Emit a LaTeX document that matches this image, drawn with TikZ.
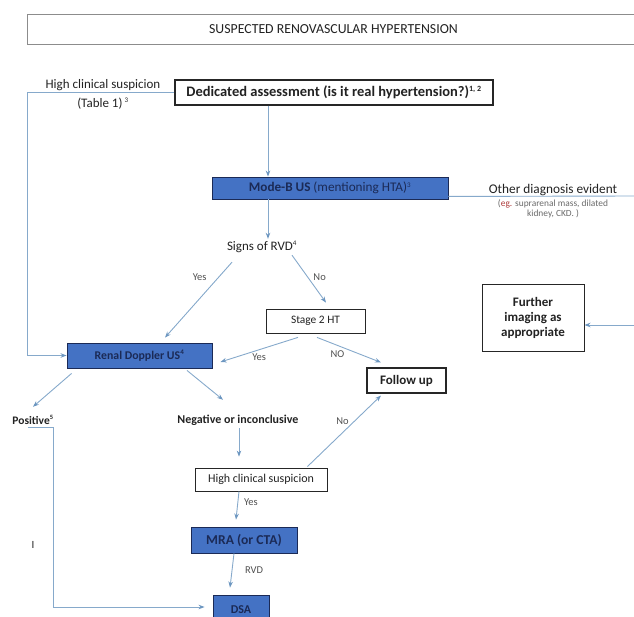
\documentclass[tikz,border=0pt]{standalone}
\usepackage{fontspec}
\setmainfont{Carlito}
\usetikzlibrary{arrows.meta}
\definecolor{lineblue}{HTML}{86A9CB}
\definecolor{tipblue}{HTML}{6C96C0}
\definecolor{boxblue}{HTML}{4472C4}
\definecolor{navy}{HTML}{1B2A56}
\definecolor{txt}{HTML}{222222}
\definecolor{lbl}{HTML}{505050}
\definecolor{subgray}{HTML}{6A6A6A}
\newcommand{\fsz}[1]{\fontsize{#1}{#1}\selectfont}
\tikzset{
  conn/.style={draw=lineblue, line width=0.9pt},
  arr/.style={conn, -{Stealth[length=6pt,width=4.5pt,color=tipblue]}},
  whitebox/.style={draw=black!85, line width=0.9pt, fill=white, inner sep=0pt, text=txt},
  bluebox/.style={draw=navy, line width=0.9pt, fill=boxblue, inner sep=0pt, text=navy, font=\bfseries},
  plain/.style={inner sep=0pt, text=txt},
  lab/.style={inner sep=0pt, text=lbl, font=\fsz{10.5}},
}
\begin{document}
\begin{tikzpicture}[x=1pt,y=-1pt]
\useasboundingbox (0,0) rectangle (634,617);
% title
\node[draw=black!45, line width=0.8pt, inner sep=0pt, minimum width=613pt, minimum height=30pt, text=txt, font=\fsz{13.8}] (title) at (333.5,29) {SUSPECTED RENOVASCULAR HYPERTENSION};
% top
\node[plain, align=center, font=\fsz{13}] (hcs1) at (103,94) {High clinical suspicion\\[6pt](Table 1)\,\textsuperscript{\fsz{7}3}};
\node[whitebox, line width=1.1pt, minimum width=318pt, minimum height=25pt, font=\fsz{14.5}\bfseries] (ded) at (334,92.5) {Dedicated assessment (is it real hypertension?)\textsuperscript{\fsz{8}1, 2}};
\node[bluebox, minimum width=236pt, minimum height=22pt, font=\fsz{13.2}] (modeb) at (330,188) {\textbf{Mode-B US} \mdseries(mentioning HTA)\textsuperscript{\fsz{7}3}};
\node[plain, font=\fsz{13.3}] (other) at (553,190) {Other diagnosis evident};
\node[plain, align=center, text=subgray, font=\fsz{9.4}] (othersub) at (553,209) {({\color{red!45!subgray}eg.} suprarenal mass, dilated\\kidney, CKD. )};
\node[plain, minimum height=14pt, font=\fsz{13}] (signs) at (262,247) {Signs of RVD\textsuperscript{\fsz{7}4}};
\node[whitebox, line width=0.8pt, minimum width=99pt, minimum height=24pt, font=\fsz{11.4}] (stage2) at (315.5,321) {Stage 2 HT};
\node[whitebox, line width=1pt, minimum width=102pt, minimum height=66pt, align=center, font=\fsz{13}\bfseries] (further) at (533,318) {Further\\[2pt]imaging as\\[2pt]appropriate};
\node[bluebox, minimum width=145pt, minimum height=25pt, font=\fsz{11.8}\bfseries] (renal) at (139.5,355.5) {Renal Doppler US\textsuperscript{\fsz{7}4}};
\node[whitebox, line width=1.1pt, minimum width=79pt, minimum height=25pt, font=\fsz{13}\bfseries] (follow) at (406.5,380.5) {Follow up};
\node[plain, minimum height=12pt, font=\fsz{11.5}\bfseries] (positive) at (33,420) {Positive\textsuperscript{\fsz{6.5}5}};
\node[plain, minimum height=12pt, font=\fsz{12}\bfseries] (negative) at (238,420) {Negative or inconclusive};
\node[whitebox, line width=0.8pt, minimum width=132pt, minimum height=23pt, font=\fsz{12}] (hcs2) at (261,479.5) {High clinical suspicion};
\node[bluebox, minimum width=106pt, minimum height=26pt, font=\fsz{13.6}\bfseries] (mra) at (244,540) {MRA (or CTA)};
\node[bluebox, minimum width=56pt, minimum height=30pt, font=\fsz{12}\bfseries] (dsa) at (241,610) {DSA};
\node[plain, font=\fsz{11}] (stray) at (33,545) {I};
\coordinate (rc) at (637,196);
% connectors
\draw[arr] ([xshift=-66pt]ded.south) -- ([xshift=-62pt]modeb.north);
\draw[arr] (ded.west) -- ++(-147,0) |- (renal.west);
\draw[arr] ([xshift=-62pt]modeb.south) -- ([xshift=6pt,yshift=1pt]signs.north);
\draw[conn] ([yshift=3pt]modeb.south east) -- (rc);
\draw[arr] (rc) |- ([yshift=-7pt]further.east);
\draw[arr] ([shift={(-30pt,-8pt)}]signs.south) -- node[lab, pos=0.2, xshift=-19pt] {Yes} ([shift={(25.5pt,5pt)}]renal.north);
\draw[arr] ([shift={(30pt,-1pt)}]signs.south) -- node[lab, pos=0.46, xshift=12pt] {No} ([shift={(10.5pt,6pt)}]stage2.north);
\draw[arr] ([shift={(-17.5pt,-4pt)}]stage2.south) -- node[lab, pos=0.5, yshift=-7pt] {Yes} ([shift={(8pt,-6.5pt)}]renal.east);
\draw[arr] ([shift={(1.5pt,-4pt)}]stage2.south) -- node[lab, pos=0.32, yshift=-9pt] {NO} ([shift={(-25.5pt,5pt)}]follow.north);
\draw[arr] ([shift={(5pt,-5pt)}]renal.south west) -- ([yshift=7pt]positive.north);
\draw[arr] ([shift={(47.5pt,-2pt)}]renal.south) -- ([shift={(-15pt,14pt)}]negative.north);
\draw[arr] ([shift={(1pt,-2pt)}]negative.south) -- ([shift={(-22pt,11pt)}]hcs2.north);
\draw[arr] ([shift={(-20pt,1pt)}]hcs2.north east) -- node[lab, pos=0.6, xshift=-9pt, yshift=3pt] {No} ([shift={(-25.5pt,-2pt)}]follow.south);
\draw[arr] ([xshift=-22pt]hcs2.south) -- node[lab, pos=0.38, xshift=13pt] {Yes} ([shift={(-8pt,7pt)}]mra.north);
\draw[arr] ([xshift=-10pt]mra.south) -- node[lab, pos=0.5, xshift=22pt] {RVD} ([shift={(-11pt,7pt)}]dsa.north);
\draw[arr] ([xshift=-5pt,yshift=-1pt]positive.south) -- ++(25,0) |- ([shift={(-8pt,3pt)}]dsa.west);
\end{tikzpicture}
\end{document}
